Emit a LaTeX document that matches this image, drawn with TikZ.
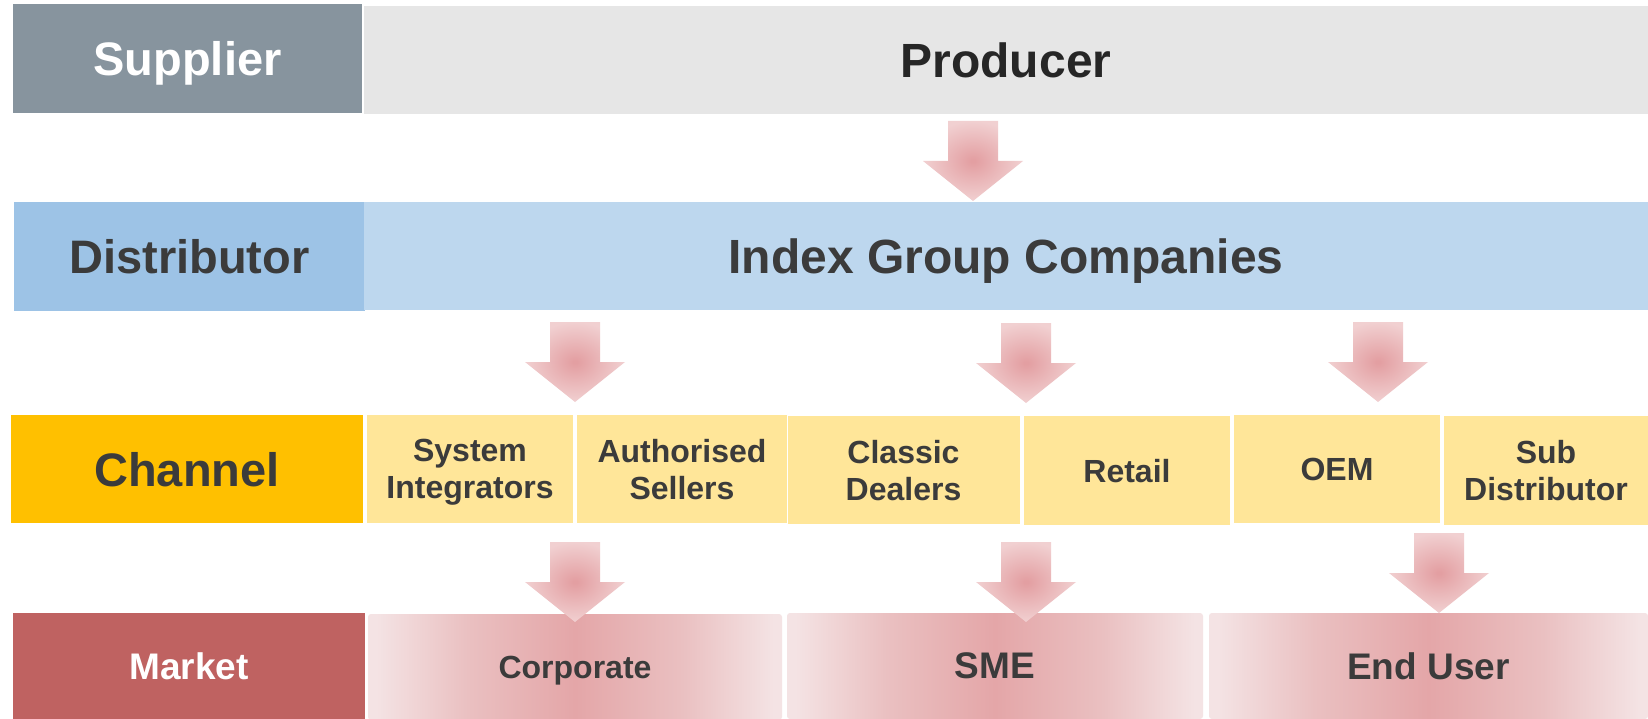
\documentclass[tikz,border=0pt]{standalone}
\usepackage{fontspec}
\setmainfont{Liberation Sans}
\definecolor{supc}{HTML}{87949E}
\definecolor{prodc}{HTML}{E6E6E6}
\definecolor{distc}{HTML}{9DC3E6}
\definecolor{idxc}{HTML}{BDD7EE}
\definecolor{chanc}{HTML}{FFC000}
\definecolor{itemc}{HTML}{FFE699}
\definecolor{mktc}{HTML}{BF6261}
\definecolor{txtc}{HTML}{3B3B3B}
\definecolor{prodtxt}{HTML}{262626}
\definecolor{arrin}{HTML}{E39FA2}
\definecolor{arrout}{HTML}{F1D0D1}
\definecolor{mktin}{HTML}{E4A6A8}
\definecolor{mktmid}{HTML}{EAC0C1}
\definecolor{mktout}{HTML}{F4E3E4}
\pgfdeclareradialshading{arrowshade}{\pgfpoint{0bp}{0bp}}{color(0bp)=(arrin);color(1bp)=(arrin);color(25bp)=(arrout);color(100bp)=(arrout)}
\pgfdeclarehorizontalshading{mktshade}{100bp}{color(0bp)=(mktout);color(26bp)=(mktout);color(37bp)=(mktmid);color(50bp)=(mktin);color(63bp)=(mktmid);color(74bp)=(mktout);color(100bp)=(mktout)}
\begin{document}
\begin{tikzpicture}[x=1pt,y=-1pt,
  box/.style={rectangle, inner sep=0pt, outer sep=0pt, align=center, text=txtc, text depth=0pt, font=\bfseries},
  bigtxt/.style={font=\bfseries\fontsize{47}{55}\selectfont},
  toptxt/.style={font=\bfseries\fontsize{48}{55}\selectfont},
  midtxt/.style={font=\bfseries\fontsize{37}{42}\selectfont},
  smalltxt/.style={font=\bfseries\fontsize{32}{37}\selectfont},
  itembox/.style={box, fill=itemc, smalltxt, minimum height=108pt},
  mktbox/.style={box, shade, shading=mktshade, rounded corners=3pt, minimum height=106pt},
  pics/blockarrow/.style={code={
    \shade[shading=arrowshade] (-25,0) -- (25,0) -- (25,40) -- (50,40) -- (0,80) -- (-50,40) -- (-25,40) -- cycle;}}
]
\useasboundingbox (0,0) rectangle (1648,719);
\fill[white] (0,0) rectangle (1648,719);

% Row 1
\node[box, fill=supc, minimum width=349pt, minimum height=109pt, text=white, bigtxt] (supplier) at (187.5,58.5) {Supplier};
\node[box, fill=prodc, minimum width=1284pt, minimum height=108pt, text=prodtxt, toptxt] (producer) at (1006,60) {Producer};

% Row 2
\node[box, fill=distc, minimum width=351pt, minimum height=109pt, bigtxt] (distributor) at (189.5,256.5) {Distributor};
\node[box, fill=idxc, minimum width=1284pt, minimum height=108pt, toptxt] (index) at (1006,256) {Index Group Companies};

% Row 3
\node[box, fill=chanc, minimum width=352pt, minimum height=108pt, bigtxt] (channel) at (187,469) {Channel};
\node[itembox, minimum width=206pt] (si) at (470,469) {System\\Integrators};
\node[itembox, minimum width=210pt] (as) at (682,469) {Authorised\\Sellers};
\node[itembox, minimum width=232pt] (cd) at (903.5,470) {Classic\\Dealers};
\node[itembox, minimum width=206pt, minimum height=109pt] (retail) at (1127,470.5) {Retail};
\node[itembox, minimum width=206pt] (oem) at (1337,469) {OEM};
\node[itembox, minimum width=204pt, minimum height=109pt] (sub) at (1546,470.5) {Sub\\Distributor};

% Row 4
\node[box, fill=mktc, minimum width=352pt, minimum height=106pt, text=white, midtxt] (market) at (189,666) {Market};
\node[mktbox, minimum width=414pt, smalltxt] (corporate) at (575,667) {Corporate};
\node[mktbox, minimum width=416pt, midtxt] (sme) at (995,666) {SME};
\node[mktbox, minimum width=439pt, midtxt] (enduser) at (1428.5,666) {End User};

% Arrows
\coordinate (a1) at (973,121);
\coordinate (a2) at (575,322);
\coordinate (a3) at (1026,323);
\coordinate (a4) at (1378,322);
\coordinate (a5) at (575,542);
\coordinate (a6) at (1026,542);
\coordinate (a7) at (1439,533);
\foreach \c in {a1,a2,a3,a4,a5,a6,a7} { \pic at (\c) {blockarrow}; }
\end{tikzpicture}
\end{document}
